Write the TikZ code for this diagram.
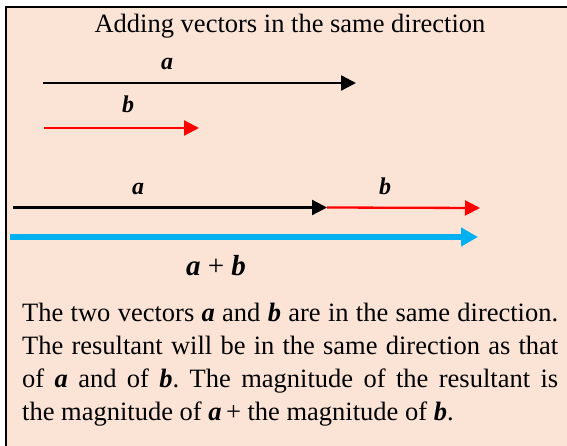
\documentclass[tikz,border=0pt]{standalone}
\usepackage{fontspec}
\setmainfont{Liberation Serif}
\usetikzlibrary{arrows.meta}
\frenchspacing

\definecolor{boxpeach}{RGB}{251,228,214}
\definecolor{sumblue}{RGB}{0,176,240}

\tikzset{
  vec/.style={line width=2.3pt, -{Triangle[length=15pt,width=15pt]}},
  sumvec/.style={line width=5.5pt, draw=sumblue, -{Triangle[length=17pt,width=18pt]}},
  veclabel/.style={font=\fontsize{24}{28}\selectfont\bfseries\itshape, inner sep=0pt, anchor=base},
}

\begin{document}
\begin{tikzpicture}[x=1pt, y=-1pt]

% Picture in pixel units: 567 x 446, y grows downwards
\useasboundingbox (0,0) rectangle (567,446);

% ── FRAME ────────────────────────────────────────────────────────────────
\fill[boxpeach] (6,7) rectangle (580,460);
\draw[line width=2.5pt] (6,460) -- (6,7) -- (580,7);

% ── TITLE ────────────────────────────────────────────────────────────────
\node[font=\fontsize{26.5}{32}\selectfont, inner sep=0pt, anchor=base]
  (title) at (290,33) {Adding vectors in the same direction};

% ── SEPARATE VECTORS (a above, b below) ──────────────────────────────────
\coordinate (a1s) at (43,83);
\coordinate (a1e) at (356,83);
\coordinate (b1s) at (44,128);
\coordinate (b1e) at (199,128);
\draw[vec, draw=black, -{Triangle[length=15pt,width=15pt,fill=black]}] (a1s) -- (a1e);
\draw[vec, draw=red, -{Triangle[length=15pt,width=15pt,fill=red]}] (b1s) -- (b1e);
\node[veclabel] (a1lab) at (167,70) {a};
\node[veclabel] (b1lab) at (128,113) {b};

% ── HEAD TO TAIL (b starts at the tip of a) ──────────────────────────────
\coordinate (a2s) at (13,207.5);
\coordinate (a2e) at (327,207.5);
\coordinate (b2e) at (480,208);
\draw[vec, draw=black] (a2s) -- (a2e);
\draw[vec, draw=red, -{Triangle[length=15pt,width=15pt,fill=red]}] (a2e) -- (b2e);
\node[veclabel] (a2lab) at (138,195) {a};
\node[veclabel] (b2lab) at (385,195) {b};

% ── RESULTANT ────────────────────────────────────────────────────────────
\coordinate (rs) at (10,237);
\coordinate (re) at (478,237);
\draw[sumvec, -{Triangle[length=17pt,width=18pt,fill=sumblue]}] (rs) -- (re);
\node[veclabel, font=\fontsize{29}{34}\selectfont] (rlab) at (216,275)
  {\textbf{\textit{a}} + \textbf{\textit{b}}};

% ── EXPLANATION ──────────────────────────────────────────────────────────
\node[anchor=north west, inner sep=0pt, text width=536pt, align=justify,
      font=\fontsize{26.5}{33}\selectfont] (note) at (22,303)
  {The two vectors \textbf{\textit{a}} and \textbf{\textit{b}} are in the same direction.\linebreak
   The resultant will be in the same direction as that\linebreak
   of \textbf{\textit{a}} and of \textbf{\textit{b}}. The magnitude of the resultant is\linebreak
   the magnitude of \textbf{\textit{a}}\,+ the magnitude of \textbf{\textit{b}}.};

\end{tikzpicture}
\end{document}
